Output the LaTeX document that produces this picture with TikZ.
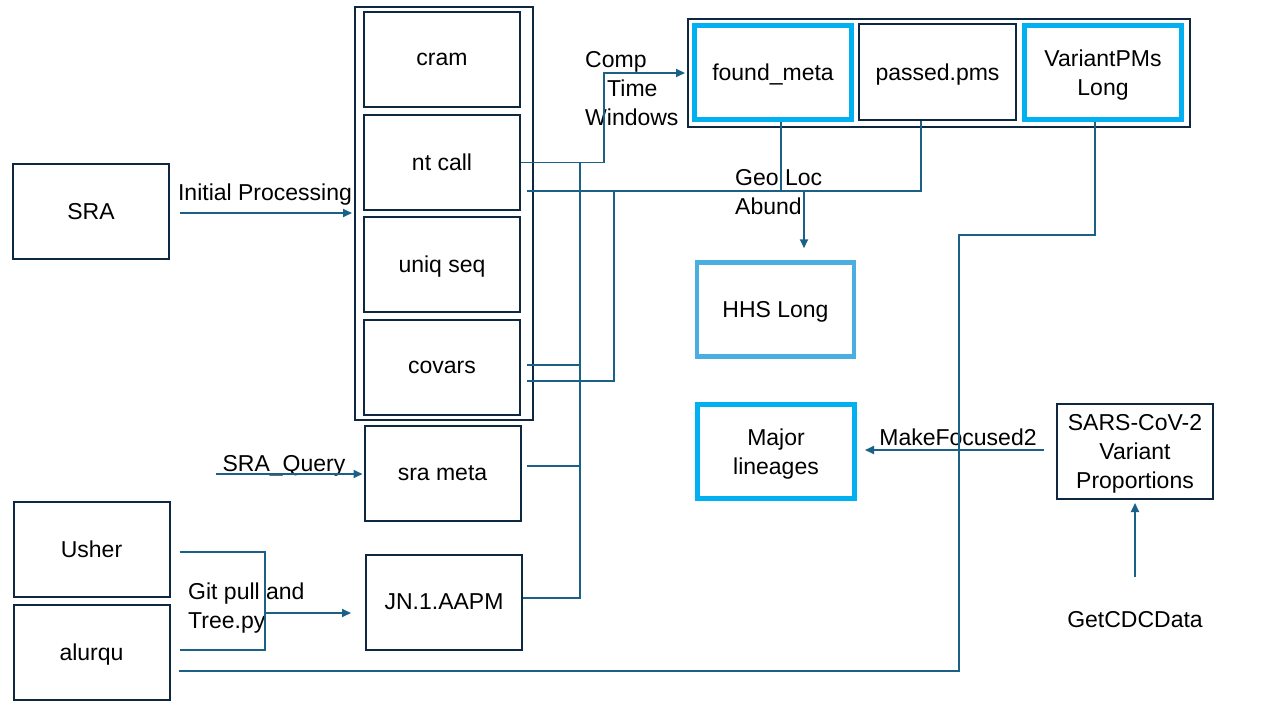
\documentclass[tikz,border=0pt]{standalone}
\usepackage{fontspec}
\setmainfont{Liberation Sans}
\usetikzlibrary{arrows.meta,calc}
\definecolor{navy}{HTML}{0E2841}
\definecolor{conn}{HTML}{1B6087}
\definecolor{cyanb}{HTML}{00B0F0}
\definecolor{hhsb}{HTML}{4AAEE0}
\begin{document}
\begin{tikzpicture}[x=1pt,y=-1pt,
  txt/.style={font=\fontsize{23}{29}\selectfont,inner sep=0pt,text=black,text depth=0pt},
  box/.style={txt,draw=navy,line width=2pt,minimum width=156pt,minimum height=95pt,align=center},
  cbox/.style={box,draw=cyanb,line width=5pt,minimum width=157pt,minimum height=94pt},
  hbox/.style={box,draw=hhsb,line width=4.5pt,minimum width=157pt,minimum height=94pt},
  frame/.style={draw=navy,line width=2pt,inner sep=0pt},
  lbl/.style={txt,align=left},
  conn/.style={draw=conn,line width=1.8pt},
  arr/.style={conn,-{Triangle[width=8pt,length=9pt]}}
]
\useasboundingbox (0,0) rectangle (1280,720);
% containers
\node[frame,minimum width=178pt,minimum height=413pt] (big) at (444,213.5) {};
\node[frame,minimum width=502pt,minimum height=108pt] (top) at (939,73) {};
% left boxes
\node[box] (sra) at (91,211.5) {SRA};
\node[box] (usher) at (91.5,549.5) {Usher};
\node[box] (alurqu) at (91.5,652.5) {alurqu};
% middle column
\node[box] (cram) at (442,59) {cram};
\node[box] (ntcall) at (442,162.5) {nt call};
\node[box] (uniq) at (442,264.5) {uniq seq};
\node[box] (covars) at (442,367.5) {covars};
\node[box] (srameta) at (442.5,473) {sra meta};
\node[box] (jn) at (444,602) {JN.1.AAPM};
% top row
\node[cbox] (found) at (773,72.5) {found\_meta};
\node[box,minimum width=157pt,minimum height=96pt] (passed) at (937.5,72) {passed.pms};
\node[cbox] (variant) at (1103,72.5) {VariantPMs\\Long};
% right side
\node[hbox] (hhs) at (775.5,309.5) {HHS Long};
\node[cbox] (major) at (776,451.5) {Major\\lineages};
\node[box] (sars) at (1135,451.5) {SARS-CoV-2\\Variant\\Proportions};
% labels
\node[lbl] (lip) at (265,192) {Initial Processing};
\node[lbl] (lsq) at (284,463) {SRA\_Query};
\node[lbl,anchor=west] (lgit) at (188,605.5) {Git pull and\\Tree.py};
\node[lbl,anchor=west] (lcomp) at (585,88.5) {Comp\\\hspace*{22pt}Time\\Windows};
\node[lbl,anchor=west] (lgeo) at (735,191.5) {Geo Loc\\Abund};
\node[lbl] (lmf) at (958,437) {MakeFocused2};
\node[lbl] (lcdc) at (1135,619) {GetCDCData};
% coordinates
\coordinate (sqs) at (216,474);
\coordinate (gj) at (265,613);
\coordinate (bus) at (580,162.5);
\coordinate (h2) at (527,191);
\coordinate (cdc) at (1135,577);
\coordinate (mfs) at (1044,450);
% connectors
\draw[arr] ($(sra.east)+(10,1.5)$) -- ($(sra.east -| big.west)+(-2,1.5)$);
\draw[arr] (sqs) -- ($(sqs -| srameta.west)+(-1,0)$);
\draw[conn] ($(usher.east)+(9,2.5)$) -| (gj) |- ($(alurqu.east)+(9,-2.5)$);
\draw[arr] (gj) -- ($(gj -| jn.west)+(-14,0)$);
\draw[conn] ($(alurqu.east)+(8,18.5)$) -- (959,671) -- (959,235) -- (1095,235) -- (1095,0 |- variant.south);
\draw[arr] (ntcall.east) -- (604,162.5) -- (604,73) -- ($(found.west)+(-7,0.5)$);
\draw[conn] (bus) -- (580,598) -- (jn.east |- 0,598);
\draw[conn] ($(covars.east)+(6,-2.5)$) -- (580,365);
\draw[conn] ($(srameta.east)+(5,-7)$) -- (580,466);
\draw[conn] (h2) -- (921,191) -- (passed.south -| 921,0);
\draw[conn] (614,191) -- (614,381) -- ($(covars.east)+(6,13.5)$);
\draw[conn] (found.south -| 781,0) -- (781,191);
\draw[arr] (804,191) -- ($(hhs.north -| 804,0)+(0,-12)$);
\draw[arr] (mfs) -- ($(major.east)+(8,-1.5)$);
\draw[arr] (cdc) -- ($(sars.south)+(0,3)$);
\end{tikzpicture}
\end{document}
